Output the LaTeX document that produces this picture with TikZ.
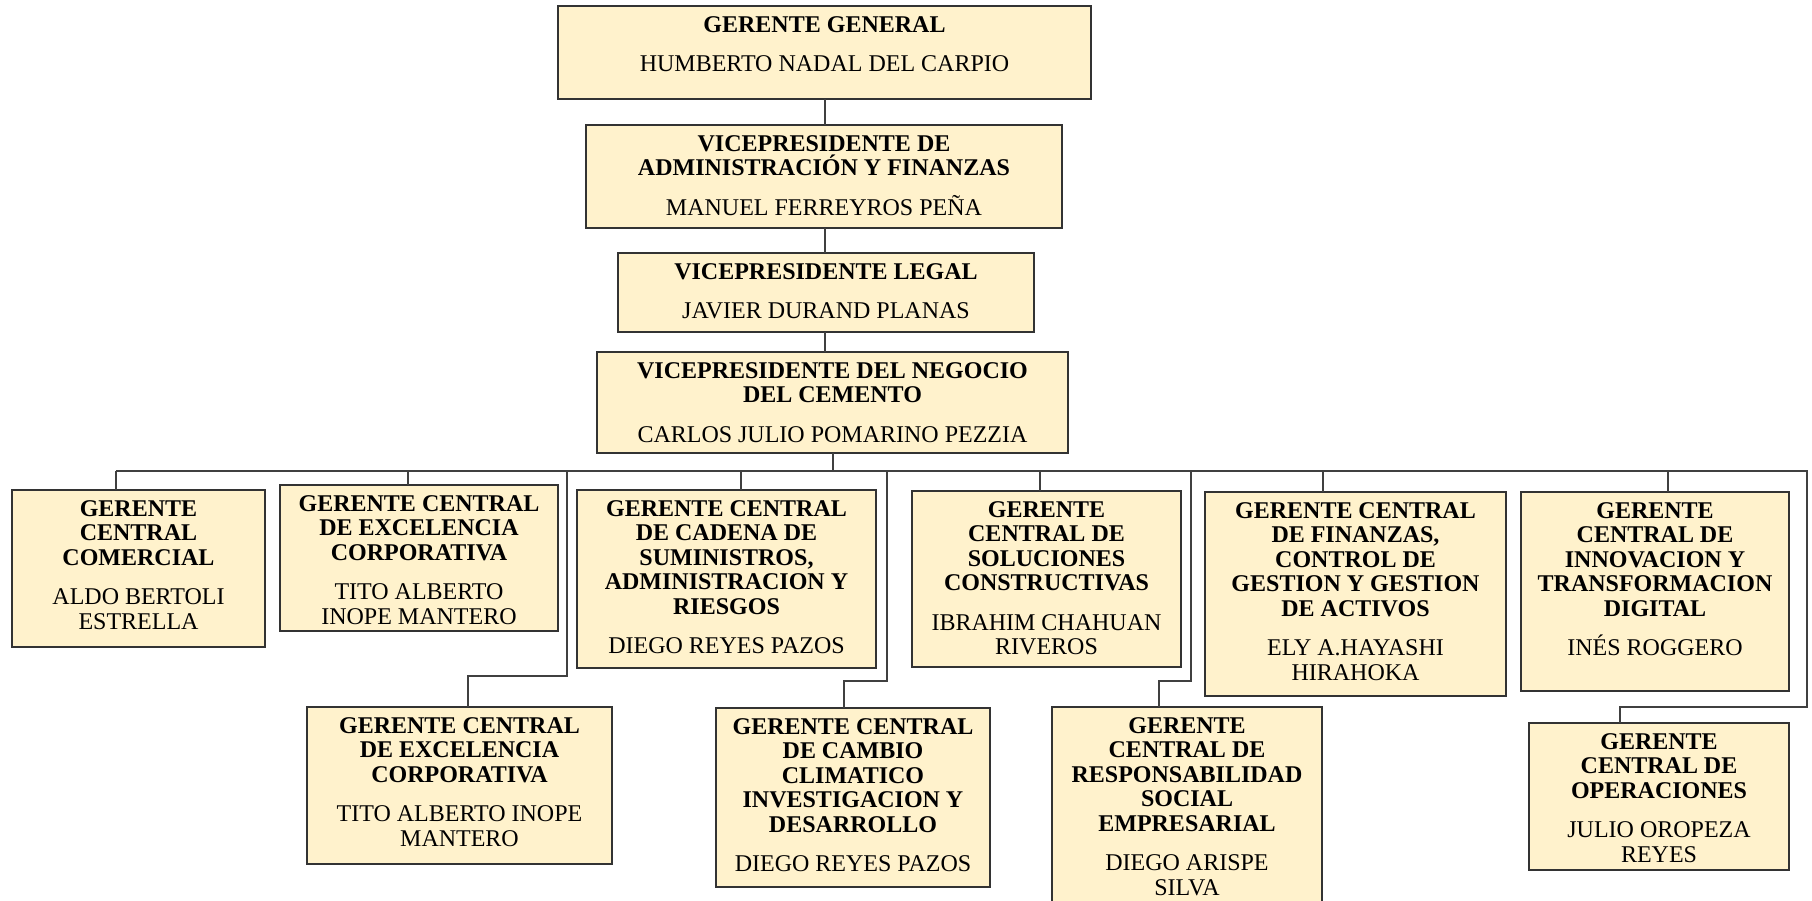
\documentclass[tikz,border=0pt]{standalone}
\usepackage{fontspec}
\setmainfont{Liberation Serif}
\usetikzlibrary{calc}
\definecolor{boxfill}{HTML}{FFF2CC}
\definecolor{boxline}{HTML}{333333}
\definecolor{conn}{HTML}{404040}
\tikzset{
  box/.style={draw=boxline, fill=boxfill, line width=1.4pt, inner sep=0pt, outer sep=0pt},
  txt/.style={align=center, inner sep=0pt, font=\fontsize{24}{24.5}\selectfont, text=black},
  link/.style={draw=conn, line width=1.4pt}
}
\newcommand{\obox}[7]{%
  \node[box, minimum width={#4-#2}, minimum height={#5-#3}, anchor=north west] (#1) at (#2,#3) {};
  \node[txt, anchor=north] (#1t) at ($(#1.north)+(0,10)$) {#6\\[15pt]#7};
}
\newcommand{\tb}[1]{\textbf{#1}}
\begin{document}
\begin{tikzpicture}[x=1pt,y=-1pt]
\useasboundingbox (0,0) rectangle (1812,901);
\clip (0,0) rectangle (1812,901);
\fill[white] (0,0) rectangle (1812,901);

% top chain
\obox{gg}{558}{6}{1091}{99}{\tb{GERENTE GENERAL}}{HUMBERTO NADAL DEL CARPIO}
\obox{vaf}{586}{125}{1062}{228}{\tb{VICEPRESIDENTE DE}\\\tb{ADMINISTRACIÓN Y FINANZAS}}{MANUEL FERREYROS PEÑA}
\obox{vl}{618}{253}{1034}{332}{\tb{VICEPRESIDENTE LEGAL}}{JAVIER DURAND PLANAS}
\obox{vnc}{597}{352}{1068}{453}{\tb{VICEPRESIDENTE DEL NEGOCIO}\\\tb{DEL CEMENTO}}{CARLOS JULIO POMARINO PEZZIA}

% row 1
\obox{A}{12}{490}{265}{647}{\tb{GERENTE}\\\tb{CENTRAL}\\\tb{COMERCIAL}}{ALDO BERTOLI\\ESTRELLA}
\obox{B}{280}{485}{558}{631}{\tb{GERENTE CENTRAL}\\\tb{DE EXCELENCIA}\\\tb{CORPORATIVA}}{TITO ALBERTO\\INOPE MANTERO}
\obox{C}{577}{490}{876}{668}{\tb{GERENTE CENTRAL}\\\tb{DE CADENA DE}\\\tb{SUMINISTROS,}\\\tb{ADMINISTRACION Y}\\\tb{RIESGOS}}{DIEGO REYES PAZOS}
\obox{D}{912}{491}{1181}{667}{\tb{GERENTE}\\\tb{CENTRAL DE}\\\tb{SOLUCIONES}\\\tb{CONSTRUCTIVAS}}{IBRAHIM CHAHUAN\\RIVEROS}
\obox{E}{1205}{492}{1506}{696}{\tb{GERENTE CENTRAL}\\\tb{DE FINANZAS,}\\\tb{CONTROL DE}\\\tb{GESTION Y GESTION}\\\tb{DE ACTIVOS}}{ELY A.HAYASHI\\HIRAHOKA}
\obox{F}{1521}{492}{1789}{691}{\tb{GERENTE}\\\tb{CENTRAL DE}\\\tb{INNOVACION Y}\\\tb{TRANSFORMACION}\\\tb{DIGITAL}}{INÉS ROGGERO}

% row 2
\obox{G}{307}{707}{612}{864}{\tb{GERENTE CENTRAL}\\\tb{DE EXCELENCIA}\\\tb{CORPORATIVA}}{TITO ALBERTO INOPE\\MANTERO}
\obox{H}{716}{708}{990}{887}{\tb{GERENTE CENTRAL}\\\tb{DE CAMBIO}\\\tb{CLIMATICO}\\\tb{INVESTIGACION Y}\\\tb{DESARROLLO}}{DIEGO REYES PAZOS}
\obox{I}{1052}{707}{1322}{910}{\tb{GERENTE}\\\tb{CENTRAL DE}\\\tb{RESPONSABILIDAD}\\\tb{SOCIAL}\\\tb{EMPRESARIAL}}{DIEGO ARISPE\\SILVA}
\obox{J}{1529}{723}{1789}{870}{\tb{GERENTE}\\\tb{CENTRAL DE}\\\tb{OPERACIONES}}{JULIO OROPEZA\\REYES}

% bus coordinates
\coordinate (busL) at (116,471);
\coordinate (busR) at (1807,471);
\coordinate (busM) at (833,471);

% top chain connectors
\draw[link] (gg.south -| 825,0) -- (vaf.north -| 825,0);
\draw[link] (vaf.south -| 825,0) -- (vl.north -| 825,0);
\draw[link] (vl.south -| 825,0) -- (vnc.north -| 825,0);
\draw[link] (vnc.south -| busM) -- (busM);

% bus
\draw[link] (busL) -- (busR) -- (1807,707) -- (1620,707) -- (J.north -| 1620,0);

% row 1 drops
\draw[link] (busL) -- (A.north -| busL);
\draw[link] (408,471) -- (B.north -| 408,0);
\draw[link] (741,471) -- (C.north -| 741,0);
\draw[link] (1040,471) -- (D.north -| 1040,0);
\draw[link] (1323,471) -- (E.north -| 1323,0);
\draw[link] (1668,471) -- (F.north -| 1668,0);

% row 2 routes
\draw[link] (567,471) -- (567,676) -- (468,676) -- (G.north -| 468,0);
\draw[link] (887,471) -- (887,681) -- (844,681) -- (H.north -| 844,0);
\draw[link] (1191,471) -- (1191,681) -- (1159,681) -- (I.north -| 1159,0);
\end{tikzpicture}
\end{document}
